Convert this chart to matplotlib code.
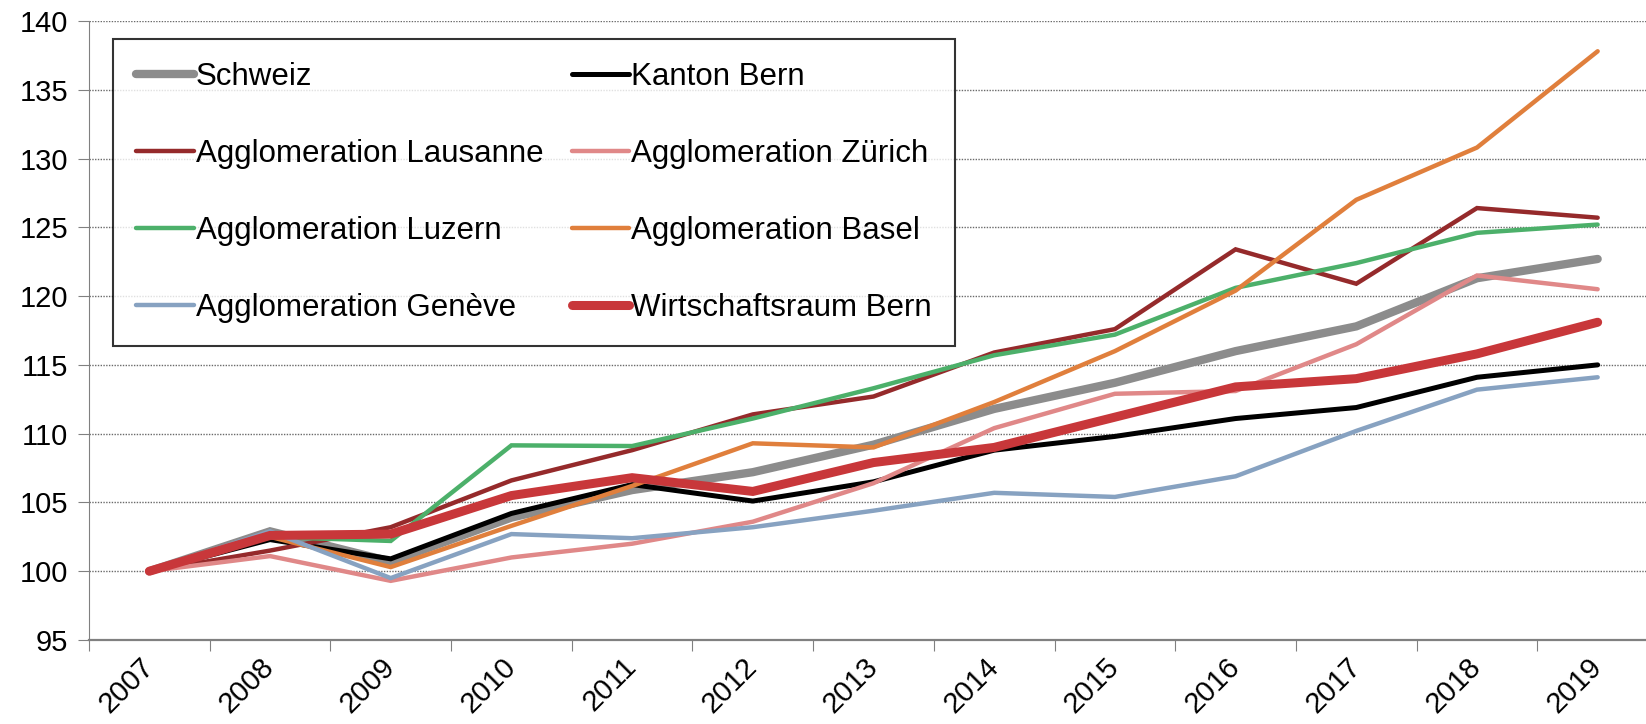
import matplotlib.pyplot as plt
import matplotlib.transforms as mtransforms

plt.rcParams['font.family'] = ['Liberation Sans', 'DejaVu Sans']

# Index values, 2007 = 100
years = ['2007', '2008', '2009', '2010', '2011', '2012', '2013',
         '2014', '2015', '2016', '2017', '2018', '2019']

schweiz = [100, 102.9, 100.7, 103.9, 105.9, 107.2, 109.2, 111.8, 113.7, 116.0, 117.8, 121.3, 122.7]
kanton_bern = [100, 102.3, 100.9, 104.2, 106.3, 105.1, 106.5, 108.8, 109.8, 111.1, 111.9, 114.1, 115.0]
lausanne = [100, 101.5, 103.2, 106.6, 108.8, 111.4, 112.7, 115.9, 117.6, 123.4, 120.9, 126.4, 125.7]
zuerich = [100, 101.1, 99.3, 101.0, 102.0, 103.6, 106.4, 110.4, 112.9, 113.1, 116.5, 121.5, 120.5]
luzern = [100, 102.5, 102.2, 109.15, 109.1, 111.1, 113.3, 115.7, 117.2, 120.6, 122.4, 124.6, 125.2]
basel = [100, 102.5, 100.3, 103.3, 106.2, 109.3, 109.0, 112.3, 116.0, 120.4, 127.0, 130.8, 137.8]
geneve = [100, 102.9, 99.5, 102.7, 102.4, 103.2, 104.4, 105.7, 105.4, 106.9, 110.2, 113.2, 114.1]
wirtschaftsraum = [100, 102.6, 102.7, 105.5, 106.8, 105.8, 107.9, 109.0, 111.2, 113.4, 114.0, 115.8, 118.1]

series = [
    ('Schweiz', schweiz, '#8c8c8c', 6.0),
    ('Kanton Bern', kanton_bern, '#000000', 3.6),
    ('Agglomeration Lausanne', lausanne, '#952a2b', 3.2),
    ('Agglomeration Zürich', zuerich, '#e08888', 3.2),
    ('Agglomeration Luzern', luzern, '#4cb06a', 3.2),
    ('Agglomeration Basel', basel, '#e07f3c', 3.2),
    ('Agglomeration Genève', geneve, '#87a2c1', 3.2),
    ('Wirtschaftsraum Bern', wirtschaftsraum, '#c8373a', 6.5),
]

fig = plt.figure(figsize=(16.46, 7.24), dpi=100)
ax = fig.add_axes([89 / 1646, 84 / 724, 1569 / 1646, 619 / 724])

x = list(range(len(years)))
lines = {}
for name, vals, color, lw in series:
    ln, = ax.plot(x, vals, color=color, lw=lw, label=name,
                  solid_capstyle='round', solid_joinstyle='miter')
    lines[name] = ln

ax.set_xlim(-0.5, len(years) - 0.5)
ax.set_ylim(95, 140)
ax.set_yticks(range(95, 141, 5))
ax.tick_params(axis='y', labelsize=21, length=8, color='#808080', pad=7)

# category axis: ticks between categories, labels centred
ax.set_xticks([i - 0.5 for i in range(len(years) + 1)])
ax.set_xticklabels([])
ax.set_xticks(x, minor=True)
ax.set_xticklabels(years, minor=True, rotation=45, ha='right',
                   rotation_mode='anchor', fontsize=21)
ax.tick_params(axis='x', which='major', length=8, color='#808080')
ax.tick_params(axis='x', which='minor', length=0, pad=9)
shift = mtransforms.ScaledTranslation(-0.1, 0, fig.dpi_scale_trans)
for lbl in ax.get_xticklabels(minor=True):
    lbl.set_transform(lbl.get_transform() + shift)

ax.grid(axis='y', linestyle=(0, (1, 1)), color='#6a6a6a', lw=1.0)
ax.set_axisbelow(True)
for side in ['top', 'right']:
    ax.spines[side].set_visible(False)
ax.spines['left'].set_color('#808080')
ax.spines['bottom'].set_color('#808080')
ax.spines['bottom'].set_linewidth(1.6)

order = ['Schweiz', 'Agglomeration Lausanne', 'Agglomeration Luzern', 'Agglomeration Genève',
         'Kanton Bern', 'Agglomeration Zürich', 'Agglomeration Basel', 'Wirtschaftsraum Bern']
leg = ax.legend([lines[n] for n in order], order, ncol=2, loc='upper left',
                bbox_to_anchor=(0.0153, 0.971), fontsize=22.5, frameon=True,
                fancybox=False, handlelength=1.85, handletextpad=0.05,
                labelspacing=1.5, columnspacing=0.9, borderpad=0.75,
                borderaxespad=0)
leg.get_frame().set_edgecolor('black')
leg.get_frame().set_linewidth(1.5)

fig.savefig('out.png', dpi=100)
